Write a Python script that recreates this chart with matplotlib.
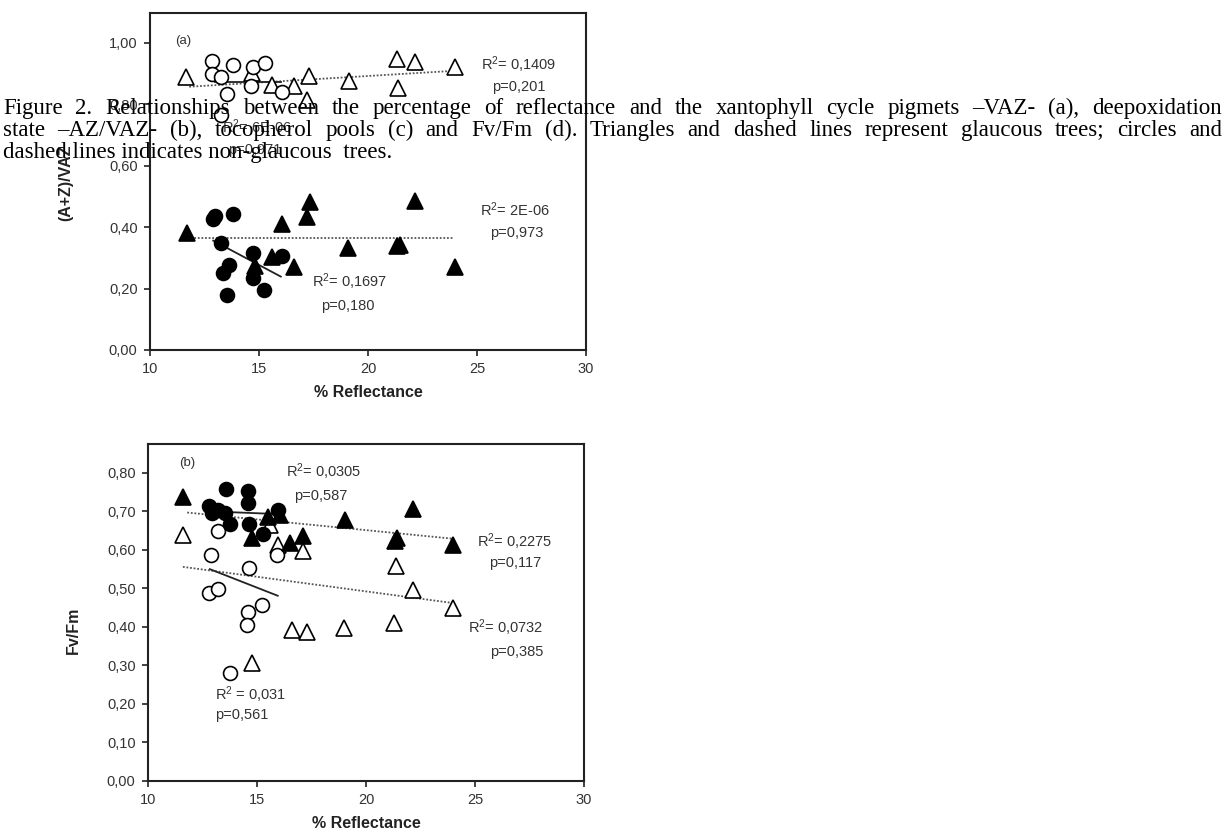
import matplotlib
matplotlib.use('Agg')
import matplotlib.pyplot as plt
from matplotlib.ticker import FuncFormatter, MultipleLocator

plt.rcParams['font.family'] = ['Liberation Sans', 'DejaVu Sans']
plt.rcParams['mathtext.fontset'] = 'custom'
plt.rcParams['mathtext.rm'] = 'Liberation Sans'
plt.rcParams['mathtext.it'] = 'Liberation Sans:italic'
plt.rcParams['mathtext.bf'] = 'Liberation Sans:bold'

# ---------------- Panel (a): (A+Z)/VAZ (lower) and VAZ (upper) ----------------
a_tri_open_x = [11.65, 14.66, 15.58, 16.61, 17.31, 19.13, 21.31, 22.16, 21.39, 17.19, 23.97]
a_tri_open_y = [0.888, 0.901, 0.863, 0.858, 0.893, 0.877, 0.947, 0.936, 0.852, 0.814, 0.921]
a_cir_open_x = [12.86, 12.83, 13.26, 13.82, 14.71, 15.28, 14.63, 13.55, 16.04, 13.26]
a_cir_open_y = [0.942, 0.899, 0.890, 0.928, 0.921, 0.934, 0.858, 0.834, 0.841, 0.765]
a_tri_fill_x = [11.68, 16.04, 17.34, 17.19, 15.58, 14.82, 16.61, 19.10, 21.32, 21.45, 22.16, 23.97]
a_tri_fill_y = [0.380, 0.410, 0.483, 0.432, 0.304, 0.274, 0.271, 0.331, 0.339, 0.342, 0.486, 0.269]
a_cir_fill_x = [12.87, 12.98, 13.82, 13.24, 14.71, 16.04, 13.62, 13.33, 14.71, 15.24, 13.55]
a_cir_fill_y = [0.427, 0.436, 0.443, 0.348, 0.317, 0.306, 0.277, 0.250, 0.234, 0.195, 0.179]

a_fit_tri_open_x = [11.8, 24.0]
a_fit_tri_open_y = [0.857, 0.909]
a_fit_cir_open_x = [13.0, 16.0]
a_fit_cir_open_y = [0.874, 0.874]
a_fit_tri_fill_x = [11.7, 23.9]
a_fit_tri_fill_y = [0.364, 0.364]
a_fit_cir_fill_x = [12.9, 16.0]
a_fit_cir_fill_y = [0.356, 0.239]

a_labels = ["R$^{2}$= 0,1409", "p=0,201", "R$^{2}$= 6E-06", "p=0,971",
            "R$^{2}$= 2E-06", "p=0,973", "R$^{2}$= 0,1697", "p=0,180"]
a_label_x = [25.18, 25.69, 13.30, 13.58, 25.14, 25.60, 17.43, 17.84]
a_label_y = [0.928, 0.857, 0.726, 0.651, 0.456, 0.381, 0.221, 0.143]

# ---------------- Panel (b): Fv/Fm ----------------
b_cir_fill_x = [13.58, 14.60, 14.57, 12.81, 12.92, 13.23, 13.53, 13.76, 14.65, 15.29, 15.98]
b_cir_fill_y = [0.758, 0.752, 0.723, 0.714, 0.695, 0.704, 0.695, 0.668, 0.668, 0.642, 0.704]
b_tri_fill_x = [11.62, 15.52, 16.06, 14.76, 16.51, 17.12, 19.05, 22.17, 21.32, 21.42, 23.98]
b_tri_fill_y = [0.738, 0.686, 0.691, 0.630, 0.619, 0.635, 0.678, 0.706, 0.624, 0.630, 0.613]
b_tri_open_x = [11.62, 15.60, 15.98, 17.12, 21.38, 22.17, 23.98, 16.59, 17.28, 19.00, 21.27, 14.76]
b_tri_open_y = [0.639, 0.665, 0.613, 0.596, 0.557, 0.496, 0.450, 0.392, 0.388, 0.397, 0.410, 0.307]
b_cir_open_x = [13.23, 12.87, 14.63, 15.90, 12.81, 13.23, 15.22, 14.60, 14.56, 13.76]
b_cir_open_y = [0.650, 0.587, 0.552, 0.587, 0.488, 0.498, 0.457, 0.440, 0.405, 0.280]

b_fit_tri_fill_x = [11.8, 24.0]
b_fit_tri_fill_y = [0.697, 0.629]
b_fit_cir_fill_x = [12.9, 16.0]
b_fit_cir_fill_y = [0.700, 0.693]
b_fit_tri_open_x = [11.6, 24.0]
b_fit_tri_open_y = [0.556, 0.462]
b_fit_cir_open_x = [12.84, 15.95]
b_fit_cir_open_y = [0.550, 0.481]

b_labels = ["R$^{2}$= 0,0305", "p=0,587", "R$^{2}$= 0,2275", "p=0,117",
            "R$^{2}$= 0,0732", "p=0,385", "R$^{2}$ = 0,031", "p=0,561"]
b_label_x = [16.33, 16.70, 25.09, 25.64, 24.68, 25.69, 13.07, 13.07]
b_label_y = [0.803, 0.740, 0.621, 0.566, 0.397, 0.335, 0.223, 0.171]

x_ticks = [10, 15, 20, 25, 30]

caption_lines = [
    "Figure 2.  Relationships between the percentage of reflectance and the xantophyll cycle pigmets \u2013VAZ- (a), deepoxidation",
    "state \u2013AZ/VAZ- (b), tocopherol pools (c)  and Fv/Fm (d). Triangles and dashed lines represent glaucous trees; circles and",
    "dashed lines indicates non-glaucous  trees.",
]

W, H = 1232, 832
fig = plt.figure(figsize=(W / 100, H / 100), dpi=100)
fig.patch.set_facecolor('white')

axa = fig.add_axes([150 / W, 1 - 350 / H, 436 / W, 337 / H])
axb = fig.add_axes([148 / W, 1 - 781 / H, 436 / W, 337 / H])

fmt = FuncFormatter(lambda v, p: f"{v:.2f}".replace('.', ','))
tick_col = '#333333'
MS_T, MS_C = 11, 10


def style(ax, ymax, ystep):
    ax.set_xlim(10, 30)
    ax.set_ylim(0, ymax)
    ax.set_xticks(x_ticks)
    ax.yaxis.set_major_locator(MultipleLocator(ystep))
    ax.yaxis.set_major_formatter(fmt)
    ax.tick_params(direction='out', length=4, width=1.2, color='#222222',
                   labelsize=10.5, labelcolor=tick_col, pad=5, top=False, right=False)
    for s in ax.spines.values():
        s.set_linewidth(1.5)
        s.set_color('#222222')


def pts(ax, x, y, marker, filled, ms):
    ax.plot(x, y, ls='none', marker=marker, ms=ms, mfc='black' if filled else 'white',
            mec='black', mew=1.2, zorder=4 if filled else 3)


def fit(ax, x, y, dotted):
    if dotted:
        ax.plot(x, y, ls=(0, (1, 1)), lw=1.3, color='#555555', zorder=2)
    else:
        ax.plot(x, y, ls='-', lw=1.3, color='#222222', zorder=2)


# Panel (a)
style(axa, 1.097, 0.2)
fit(axa, a_fit_tri_open_x, a_fit_tri_open_y, True)
fit(axa, a_fit_cir_open_x, a_fit_cir_open_y, False)
fit(axa, a_fit_tri_fill_x, a_fit_tri_fill_y, True)
fit(axa, a_fit_cir_fill_x, a_fit_cir_fill_y, False)
pts(axa, a_tri_open_x, a_tri_open_y, '^', False, MS_T)
pts(axa, a_cir_open_x, a_cir_open_y, 'o', False, MS_C)
pts(axa, a_cir_fill_x, a_cir_fill_y, 'o', True, MS_C)
pts(axa, a_tri_fill_x, a_tri_fill_y, '^', True, MS_T)
for t, x, y in zip(a_labels, a_label_x, a_label_y):
    axa.text(x, y, t, fontsize=10.5, color='#333333', ha='left', va='center', zorder=5)
axa.text(11.15, 1.007, "(a)", fontsize=9.5, color='#333333', ha='left', va='center')
axa.set_xlabel("% Reflectance", fontsize=11.5, fontweight='bold', color='#222222', labelpad=6)
fig.text(66 / W, 1 - 183 / H, "(A+Z)/VAZ", rotation=90, fontsize=11.5, fontweight='bold',
         color='#222222', ha='center', va='center')

# Panel (b)
style(axb, 0.875, 0.1)
fit(axb, b_fit_tri_fill_x, b_fit_tri_fill_y, True)
fit(axb, b_fit_cir_fill_x, b_fit_cir_fill_y, False)
fit(axb, b_fit_tri_open_x, b_fit_tri_open_y, True)
fit(axb, b_fit_cir_open_x, b_fit_cir_open_y, False)
pts(axb, b_tri_open_x, b_tri_open_y, '^', False, MS_T)
pts(axb, b_cir_open_x, b_cir_open_y, 'o', False, MS_C)
pts(axb, b_cir_fill_x, b_cir_fill_y, 'o', True, MS_C)
pts(axb, b_tri_fill_x, b_tri_fill_y, '^', True, MS_T)
for t, x, y in zip(b_labels, b_label_x, b_label_y):
    axb.text(x, y, t, fontsize=10.5, color='#333333', ha='left', va='center', zorder=5)
axb.text(11.42, 0.826, "(b)", fontsize=9.5, color='#333333', ha='left', va='center')
axb.set_xlabel("% Reflectance", fontsize=11.5, fontweight='bold', color='#222222', labelpad=6)
fig.text(73 / W, 1 - 630 / H, "Fv/Fm", rotation=90, fontsize=11.5, fontweight='bold',
         color='#222222', ha='center', va='center')

# Caption (justified, drawn over the chart)
cap_fs = 16.5
x_left, x_right = 3, 1222
baselines = [114, 136, 158]
renderer = fig.canvas.get_renderer()
for i, line in enumerate(caption_lines):
    yb = 1 - baselines[i] / H
    if i == len(caption_lines) - 1:
        fig.text(x_left / W, yb, line, fontsize=cap_fs, family='Liberation Serif',
                 ha='left', va='baseline', color='black', zorder=10)
        continue
    words = line.split()
    txts = [fig.text(0, yb, w, fontsize=cap_fs, family='Liberation Serif',
                     ha='left', va='baseline', color='black', zorder=10) for w in words]
    widths = [t.get_window_extent(renderer).width for t in txts]
    gap = (x_right - x_left - sum(widths)) / (len(words) - 1)
    xpos = x_left
    for t, w in zip(txts, widths):
        t.set_x(xpos / W)
        xpos += w + gap

fig.savefig('out.png', dpi=100, facecolor='white')
